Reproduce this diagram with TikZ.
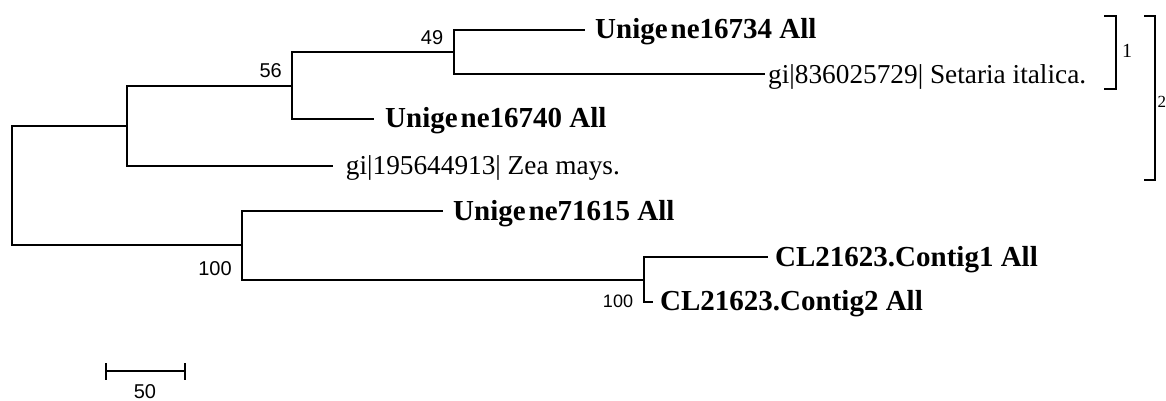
\documentclass[tikz,border=0pt]{standalone}
\usepackage{fontspec}
\setmainfont{Liberation Serif}
\newfontfamily\arialf{Liberation Sans}
\begin{document}
\begin{tikzpicture}[x=1pt,y=-1pt,
  branch/.style={line width=2pt},
  boldleaf/.style={anchor=base west, inner sep=0pt, font=\fontsize{29}{30}\selectfont\bfseries},
  plainleaf/.style={anchor=base west, inner sep=0pt, font=\fontsize{27.3}{28}\selectfont},
  boot/.style={anchor=base, inner sep=0pt, font=\arialf\fontsize{20}{22}\selectfont},
  bootsmall/.style={anchor=base, inner sep=0pt, font=\arialf\fontsize{18}{20}\selectfont},
  clade/.style={anchor=base west, inner sep=0pt, font=\fontsize{20}{22}\selectfont},
]
\useasboundingbox (0,0) rectangle (1166,401);
% internal nodes
\coordinate (r) at (12,185.5);
\coordinate (nA) at (126.7,126);
\coordinate (n56) at (291.7,85.7);
\coordinate (n49) at (453.7,52);
\coordinate (nB) at (241.7,245.3);
\coordinate (nC) at (644.3,279.5);
% leaf branch ends
\coordinate (e1) at (585,29.7);
\coordinate (e2) at (765,74.3);
\coordinate (e3) at (374,119);
\coordinate (e4) at (333,165.7);
\coordinate (e5) at (443,211.3);
\coordinate (e6) at (768,257.3);
\coordinate (e7) at (653,301.7);
% leaf labels
\node[boldleaf] (t1) at (595,38.7) {Unige\kern3pt ne16734 All};
\node[plainleaf] (t2) at (768,83.3) {gi|836025729| Setaria italica.};
\node[boldleaf] (t3) at (385,128) {Unige\kern3pt ne16740 All};
\node[plainleaf] (t4) at (345.7,174.7) {gi|195644913| Zea mays.};
\node[boldleaf] (t5) at (453,220.3) {Unige\kern3pt ne71615 All};
\node[boldleaf] (t6) at (775,266.3) {CL21623.Contig1 All};
\node[boldleaf] (t7) at (660,310.7) {CL21623.Contig2 All};
% branches
\draw[branch] (r) |- (nA);
\draw[branch] (r) |- (nB);
\draw[branch] (nA) |- (n56);
\draw[branch] (nA) |- (e4);
\draw[branch] (n56) |- (n49);
\draw[branch] (n56) |- (e3);
\draw[branch] (n49) |- (e1);
\draw[branch] (n49) |- (e2);
\draw[branch] (nB) |- (e5);
\draw[branch] (nB) |- (nC);
\draw[branch] (nC) |- (e6);
\draw[branch] (nC) |- (e7);
% bootstrap values
\node[boot] (b49) at (432,44.3) {49};
\node[boot] (b56) at (270.7,78) {56};
\node[boot] (bB) at (215,275.3) {100};
\node[bootsmall] (bC) at (618,307.5) {100};
% scale bar
\coordinate (s1) at (106,370.7);
\coordinate (s2) at (185,370.7);
\draw[branch] (s1) -- (s2);
\draw[branch] ([yshift=-9pt]s1) -- ([yshift=8pt]s1);
\draw[branch] ([yshift=-9pt]s2) -- ([yshift=8pt]s2);
\node[boot] (sl) at (145,398.5) {50};
% clade brackets
\coordinate (c1a) at (1104,16.5);
\coordinate (c1b) at (1104,89);
\coordinate (c2a) at (1144,16.5);
\coordinate (c2b) at (1144,180);
\draw[branch] (c1a) -- ++(11.7,0) |- (c1b);
\draw[branch] (c2a) -- ++(11.3,0) |- (c2b);
\node[clade] (l1) at (1122,57.7) {1};
\node[clade, font=\fontsize{17}{19}\selectfont] (l2) at (1157.3,107.5) {2};
\end{tikzpicture}
\end{document}
